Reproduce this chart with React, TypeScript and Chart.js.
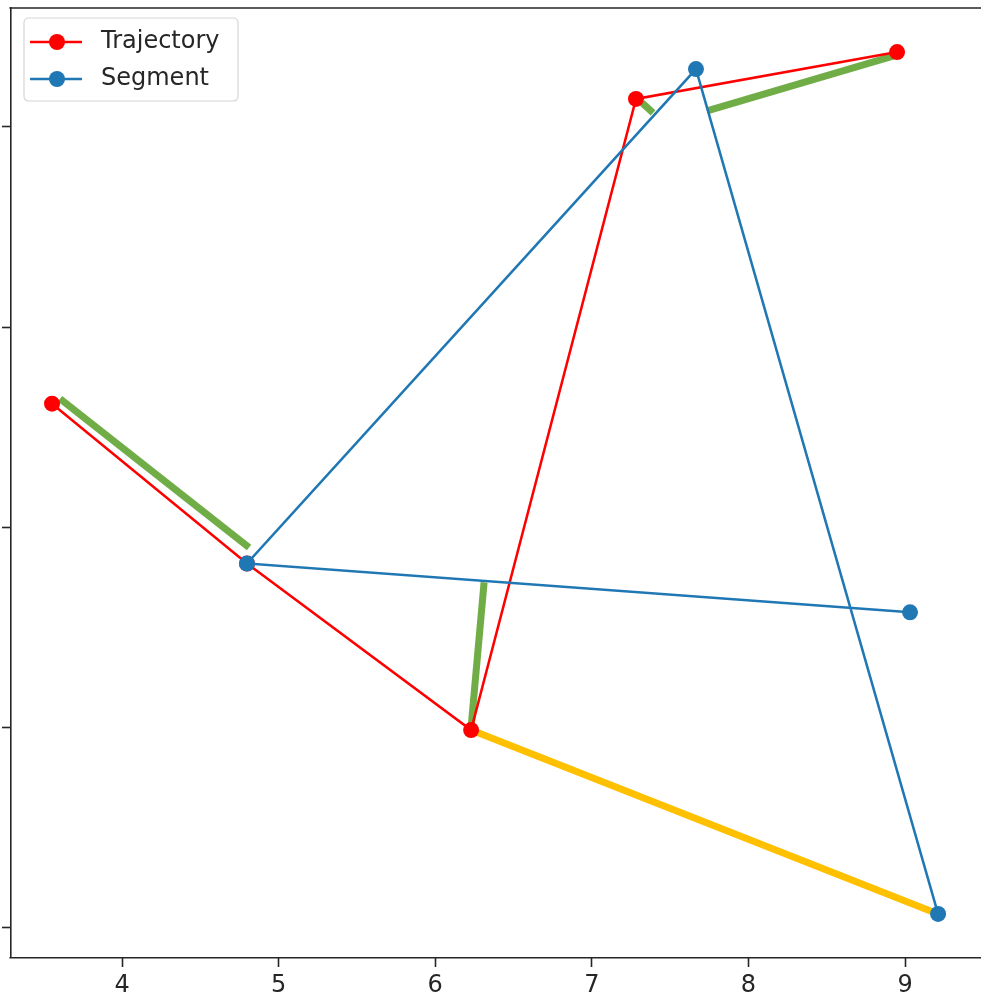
import React, { useEffect, useRef } from "react";
import { Chart, registerables } from "chart.js";

Chart.register(...registerables);

// ---- data ----
const trajectoryX = [3.553, 4.798, 6.229, 7.282, 8.949];
const trajectoryY = [2.618, 1.82, 0.988, 4.14, 4.374];

const segmentX = [9.032, 4.798, 7.665, 9.211];
const segmentY = [1.576, 1.82, 4.289, 0.07];

// green highlighted pieces: [x1, y1, x2, y2]
const greenSegments = [
  [3.604, 2.643, 4.811, 1.9],
  [6.229, 1.002, 6.312, 1.726],
  [7.321, 4.12, 7.391, 4.07],
  [7.736, 4.08, 8.923, 4.354],
];
// orange highlighted piece
const orangeSegment = [6.229, 0.988, 9.211, 0.07];

const xTicks = [4, 5, 6, 7, 8, 9];
const yTicks = [0, 1, 2, 3, 4];

const X_MIN = 3.291;
const X_MAX = 9.434;
const Y_MIN = -0.145;
const Y_MAX = 4.594;

const RED = "#ff0000";
const BLUE = "#1f77b4";
const GREEN = "#70ad47";
const ORANGE = "#ffc000";
const AXIS = "#262626";
const FONT = "DejaVu Sans";

const legendItems = [
  { label: "Trajectory", color: RED },
  { label: "Segment", color: BLUE },
];

const toPoints = (xs: number[], ys: number[]) => xs.map((x, i) => ({ x, y: ys[i] }));

const frameAndLegend = {
  id: "frameAndLegend",
  afterDraw(chart: any) {
    const { ctx, chartArea } = chart;
    ctx.save();
    // top and bottom spines, running to the canvas edge
    ctx.strokeStyle = AXIS;
    ctx.lineWidth = 1.6;
    ctx.beginPath();
    ctx.moveTo(chartArea.left - 1.6, chartArea.top);
    ctx.lineTo(chart.width, chartArea.top);
    ctx.moveTo(chartArea.left - 1.6, chartArea.bottom + 0.8);
    ctx.lineTo(chart.width, chartArea.bottom + 0.8);
    ctx.stroke();

    // legend box
    const bx = 24, by = 18, bw = 214, bh = 83, r = 5;
    ctx.beginPath();
    ctx.moveTo(bx + r, by);
    ctx.lineTo(bx + bw - r, by);
    ctx.quadraticCurveTo(bx + bw, by, bx + bw, by + r);
    ctx.lineTo(bx + bw, by + bh - r);
    ctx.quadraticCurveTo(bx + bw, by + bh, bx + bw - r, by + bh);
    ctx.lineTo(bx + r, by + bh);
    ctx.quadraticCurveTo(bx, by + bh, bx, by + bh - r);
    ctx.lineTo(bx, by + r);
    ctx.quadraticCurveTo(bx, by, bx + r, by);
    ctx.closePath();
    ctx.fillStyle = "rgba(255,255,255,0.8)";
    ctx.fill();
    ctx.strokeStyle = "#d6d6d6";
    ctx.lineWidth = 1.2;
    ctx.stroke();

    legendItems.forEach((item, i) => {
      const y = 42 + i * 37;
      ctx.strokeStyle = item.color;
      ctx.lineWidth = 2.5;
      ctx.beginPath();
      ctx.moveTo(30, y);
      ctx.lineTo(82, y);
      ctx.stroke();
      ctx.fillStyle = item.color;
      ctx.beginPath();
      ctx.arc(57, y, 8, 0, Math.PI * 2);
      ctx.fill();
      ctx.fillStyle = AXIS;
      ctx.font = `24px "${FONT}"`;
      ctx.textBaseline = "middle";
      ctx.textAlign = "left";
      ctx.fillText(item.label, 101, y);
    });
    ctx.restore();
  },
};

export default function App() {
  const ref = useRef<HTMLCanvasElement | null>(null);

  useEffect(() => {
    if (!ref.current) return;

    const datasets: any[] = [
      {
        label: "Segment",
        data: toPoints(segmentX, segmentY),
        showLine: true,
        borderColor: BLUE,
        backgroundColor: BLUE,
        borderWidth: 2.5,
        pointRadius: 8,
        pointBorderWidth: 0,
        pointBackgroundColor: BLUE,
        order: 0,
      },
      {
        label: "Trajectory",
        data: toPoints(trajectoryX, trajectoryY),
        showLine: true,
        borderColor: RED,
        backgroundColor: RED,
        borderWidth: 2.5,
        pointRadius: 8,
        pointBorderWidth: 0,
        pointBackgroundColor: RED,
        order: 1,
      },
      ...greenSegments.map((s, i) => ({
        label: "green" + i,
        data: [
          { x: s[0], y: s[1] },
          { x: s[2], y: s[3] },
        ],
        showLine: true,
        borderColor: GREEN,
        borderWidth: 7,
        borderCapStyle: "butt",
        pointRadius: 0,
        order: 2,
      })),
      {
        label: "orange",
        data: [
          { x: orangeSegment[0], y: orangeSegment[1] },
          { x: orangeSegment[2], y: orangeSegment[3] },
        ],
        showLine: true,
        borderColor: ORANGE,
        borderWidth: 7,
        borderCapStyle: "butt",
        pointRadius: 0,
        order: 2,
      },
    ];

    const chart = new Chart(ref.current, {
      type: "scatter",
      data: { datasets },
      plugins: [frameAndLegend],
      options: {
        responsive: false,
        animation: false,
        events: [],
        layout: { padding: { top: 7, right: 0, left: 0, bottom: 0 } },
        plugins: {
          legend: { display: false },
          tooltip: { enabled: false },
        },
        scales: {
          x: {
            type: "linear",
            min: X_MIN,
            max: X_MAX,
            afterFit: (s: any) => {
              s.height = 40;
            },
            afterBuildTicks: (s: any) => {
              s.ticks = xTicks.map((v) => ({ value: v }));
            },
            ticks: {
              includeBounds: false,
              stepSize: 1,
              padding: 4,
              color: AXIS,
              font: { family: FONT, size: 24 },
              maxRotation: 0,
              callback: (v: any) => String(v),
            },
            grid: {
              drawOnChartArea: false,
              drawTicks: true,
              tickLength: 10,
              tickColor: AXIS,
              tickWidth: 1.6,
            },
            border: { display: false },
          },
          y: {
            type: "linear",
            min: Y_MIN,
            max: Y_MAX,
            afterFit: (s: any) => {
              s.width = 11;
            },
            afterBuildTicks: (s: any) => {
              s.ticks = yTicks.map((v) => ({ value: v }));
            },
            ticks: {
              display: false,
              includeBounds: false,
              stepSize: 1,
            },
            grid: {
              drawOnChartArea: false,
              drawTicks: true,
              tickLength: 9,
              tickColor: AXIS,
              tickWidth: 1.6,
            },
            border: { display: true, color: AXIS, width: 1.6 },
          },
        },
      } as any,
    });

    return () => chart.destroy();
  }, []);

  return (
    <div style={{ position: "fixed", left: 0, top: 0, width: 981, height: 997, background: "#fff" }}>
      <canvas ref={ref} width={981} height={997} style={{ width: 981, height: 997, display: "block" }} />
    </div>
  );
}
